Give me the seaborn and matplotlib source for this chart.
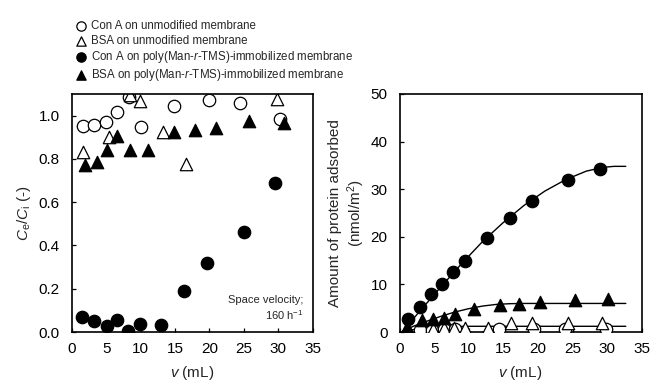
import matplotlib
matplotlib.use("Agg")
import matplotlib.pyplot as plt
import seaborn as sns

# ---- left panel: Ce/Ci vs v ----
conA_unmod_v = [1.7, 3.25, 4.95, 6.65, 8.35, 10.05, 14.8, 19.9, 24.4, 30.2]
conA_unmod_c = [0.954, 0.957, 0.969, 1.017, 1.084, 0.946, 1.046, 1.072, 1.060, 0.985]

bsa_unmod_v = [1.7, 5.4, 8.4, 9.85, 13.2, 16.55, 29.85]
bsa_unmod_c = [0.83, 0.903, 1.095, 1.069, 0.923, 0.776, 1.075]

conA_poly_v = [1.55, 3.3, 5.1, 6.55, 8.25, 9.95, 13.0, 16.3, 19.7, 25.0, 29.6]
conA_poly_c = [0.070, 0.052, 0.027, 0.055, 0.005, 0.036, 0.031, 0.19, 0.32, 0.462, 0.689]

bsa_poly_v = [1.95, 3.64, 5.1, 6.65, 8.5, 11.07, 14.8, 17.96, 20.9, 25.8, 30.9]
bsa_poly_c = [0.770, 0.788, 0.839, 0.906, 0.842, 0.839, 0.923, 0.934, 0.942, 0.975, 0.965]

# ---- right panel: amount adsorbed vs v ----
conA_poly_amt_v = [1.2, 2.9, 4.55, 6.1, 7.8, 9.4, 12.6, 15.9, 19.2, 24.4, 29.0]
conA_poly_amt = [2.7, 5.2, 7.9, 10.1, 12.7, 15.0, 19.7, 23.9, 27.6, 32.0, 34.3]

bsa_poly_amt_v = [1.1, 3.25, 4.8, 6.4, 8.05, 10.7, 14.5, 17.3, 20.3, 25.3, 30.2]
bsa_poly_amt = [1.1, 2.45, 2.66, 3.0, 3.7, 4.75, 5.6, 5.9, 6.4, 6.7, 6.85]

bsa_unmod_amt_v = [1.2, 4.8, 6.4, 7.9, 9.4, 12.8, 16.1, 19.1, 24.3, 29.3]
bsa_unmod_amt = [0.4, 0.7, 0.75, 0.8, 0.9, 0.9, 1.8, 1.96, 1.96, 1.96]

conA_unmod_amt_v = [2.9, 4.7, 6.4, 8.0, 14.4, 19.5, 23.9, 29.8]
conA_unmod_amt = [0.35, 0.5, 0.55, 0.6, 0.7, 0.7, 0.7, 0.7]

# fitted curves
conA_fit_v = [0.5, 3, 6, 9, 12, 15, 18, 21, 24, 27, 29.5, 31, 32.7]
conA_fit = [0.2, 4.5, 9.5, 14.4, 19.0, 23.0, 26.6, 29.6, 32.0, 33.8, 34.6, 34.8, 34.8]

bsa_fit_v = [0.5, 2, 4, 6, 8, 10, 12, 14, 16, 18, 32.7]
bsa_fit = [0.2, 1.2, 2.3, 3.3, 4.2, 4.9, 5.45, 5.8, 5.95, 6.0, 6.0]

unmod_fit_v = [0.5, 2, 4, 6, 8, 10, 32.7]
unmod_fit = [0.1, 0.5, 0.85, 1.05, 1.15, 1.2, 1.2]

labels = [
    "Con A on unmodified membrane",
    "BSA on unmodified membrane",
    "Con A on poly(Man-$r$-TMS)-immobilized membrane",
    "BSA on poly(Man-$r$-TMS)-immobilized membrane",
]

sns.set_style("ticks")
plt.rcParams["font.family"] = ["Liberation Sans", "DejaVu Sans"]
plt.rcParams["mathtext.fontset"] = "custom"
plt.rcParams["mathtext.rm"] = "Liberation Sans"
plt.rcParams["mathtext.it"] = "Liberation Sans:italic"
plt.rcParams["xtick.direction"] = "in"
plt.rcParams["ytick.direction"] = "in"

fig = plt.figure(figsize=(6.53, 3.81), dpi=100)
ax1 = fig.add_axes([0.1098, 0.1286, 0.369, 0.6247])
ax2 = fig.add_axes([0.6118, 0.1286, 0.3709, 0.6247])

ms = 80
open_kw = dict(color="white", edgecolor="black", linewidth=0.9, s=ms)
fill_kw = dict(color="black", edgecolor="black", linewidth=0.9, s=ms)

# left panel
sns.scatterplot(x=conA_unmod_v, y=conA_unmod_c, marker="o", label=labels[0], ax=ax1, **open_kw)
sns.scatterplot(x=bsa_unmod_v, y=bsa_unmod_c, marker="^", label=labels[1], ax=ax1, **open_kw)
sns.scatterplot(x=conA_poly_v, y=conA_poly_c, marker="o", label=labels[2], ax=ax1, **fill_kw)
sns.scatterplot(x=bsa_poly_v, y=bsa_poly_c, marker="^", label=labels[3], ax=ax1, **fill_kw)

ax1.set_xlim(0, 35)
ax1.set_ylim(0, 1.1)
ax1.set_xticks(range(0, 36, 5))
ax1.set_yticks([0, 0.2, 0.4, 0.6, 0.8, 1.0])
ax1.set_yticklabels([f"{t:.1f}" for t in [0, 0.2, 0.4, 0.6, 0.8, 1.0]])
ax1.set_xlabel("$v$ (mL)", fontsize=11, labelpad=6)
ax1.set_ylabel("$C_\\mathrm{e}/C_\\mathrm{i}$ (-)", fontsize=11)
ax1.text(0.96, 0.04, "Space velocity;\n160 h$^{-1}$", transform=ax1.transAxes,
         ha="right", va="bottom", fontsize=8, linespacing=1.3)

handles, labs = ax1.get_legend_handles_labels()
if ax1.get_legend() is not None:
    ax1.get_legend().remove()

# right panel
sns.lineplot(x=conA_fit_v, y=conA_fit, color="black", lw=1, ax=ax2)
sns.lineplot(x=bsa_fit_v, y=bsa_fit, color="black", lw=1, ax=ax2)
sns.lineplot(x=unmod_fit_v, y=unmod_fit, color="black", lw=1, ax=ax2)
sns.scatterplot(x=conA_unmod_amt_v, y=conA_unmod_amt, marker="o", ax=ax2, zorder=3, **open_kw)
sns.scatterplot(x=bsa_unmod_amt_v, y=bsa_unmod_amt, marker="^", ax=ax2, zorder=3, **open_kw)
sns.scatterplot(x=conA_poly_amt_v, y=conA_poly_amt, marker="o", ax=ax2, zorder=3, **fill_kw)
sns.scatterplot(x=bsa_poly_amt_v, y=bsa_poly_amt, marker="^", ax=ax2, zorder=3, **fill_kw)

ax2.set_xlim(0, 35)
ax2.set_ylim(0, 50)
ax2.set_xticks(range(0, 36, 5))
ax2.set_yticks(range(0, 51, 10))
ax2.set_xlabel("$v$ (mL)", fontsize=11, labelpad=6)
ax2.set_ylabel("Amount of protein adsorbed\n(nmol/m$^2$)", fontsize=11, labelpad=3)

for ax in (ax1, ax2):
    for sp in ax.spines.values():
        sp.set_visible(True)
        sp.set_linewidth(1.2)
        sp.set_color("black")
    ax.tick_params(labelsize=11, length=3, width=0.9, colors="black")
    ax.tick_params(axis="x", pad=7)
    ax.tick_params(axis="y", pad=8.5)

fig.legend(handles, labs, loc="upper left", bbox_to_anchor=(0.108, 0.962),
           frameon=False, fontsize=8.3, handlelength=0.8, handletextpad=0.5,
           labelspacing=0.2, borderpad=0, markerscale=0.75)

fig.savefig("out.png", dpi=100)
